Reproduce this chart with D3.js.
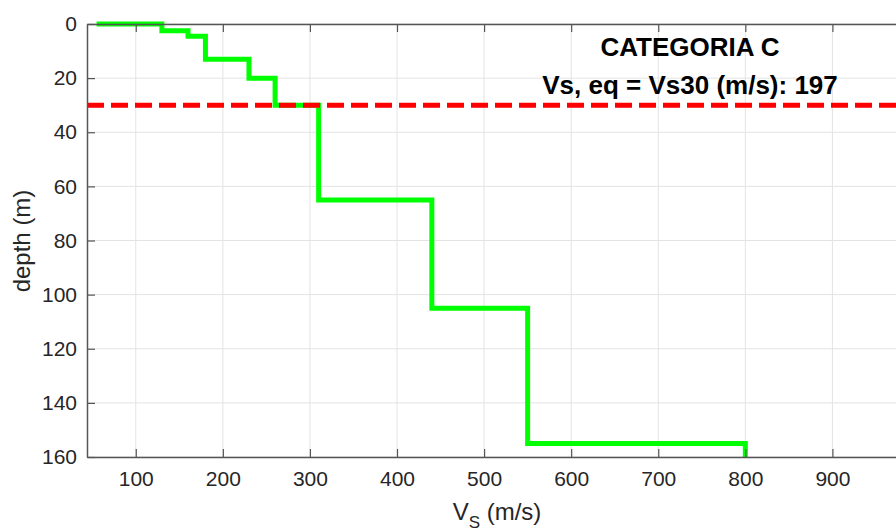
<!DOCTYPE html>
<html>
<head>
<meta charset="utf-8">
<script src="https://cdn.jsdelivr.net/npm/d3@7"></script>
<style>
	html, body { margin: 0; padding: 0; background: #fff; }
	svg { display: block; font-family: 'Liberation Sans', Arial, sans-serif; }
</style>
</head>
<body>
<div id="chart"></div>
<script>
// Vs profile: layer velocities and layer top depths
const startVs = 55;
const layerVs = [130, 160, 180, 230, 260, 310, 440, 550, 800];
const layerTop = [0, 2.5, 4.5, 13, 20, 30, 65, 105, 155];
const maxDepth = 160;

// reference depth for Vs30
const refDepth = 30;

// ticks
const xTicks = [100, 200, 300, 400, 500, 600, 700, 800, 900];
const yTicks = [0, 20, 40, 60, 80, 100, 120, 140, 160];

const category_label = 'CATEGORIA C';
const vs_label = 'Vs, eq = Vs30 (m/s): 197';

// Declare the chart dimensions and margins.
const width = 896;
const height = 531;
const marginTop = 24;
const marginLeft = 87;
const plotBottom = 457;
const plotRight = 919.5;

const x = d3.scaleLinear().domain([44, 1000]).range([marginLeft, plotRight]);
const y = d3.scaleLinear().domain([0, maxDepth]).range([marginTop, plotBottom]);

const svg = d3
	.select('#chart')
	.append('svg')
	.attr('width', width)
	.attr('height', height)
	.attr('viewBox', [0, 0, width, height]);

const axisColor = '#555';
const textColor = '#262626';

// grid
svg
	.append('g')
	.selectAll('line')
	.data(xTicks)
	.enter()
	.append('line')
	.attr('x1', (d) => x(d))
	.attr('x2', (d) => x(d))
	.attr('y1', marginTop)
	.attr('y2', plotBottom)
	.attr('stroke', '#e3e3e3')
	.attr('stroke-width', 1);

svg
	.append('g')
	.selectAll('line')
	.data(yTicks)
	.enter()
	.append('line')
	.attr('x1', marginLeft)
	.attr('x2', plotRight)
	.attr('y1', (d) => y(d))
	.attr('y2', (d) => y(d))
	.attr('stroke', '#e3e3e3')
	.attr('stroke-width', 1);

// build step profile points
let points = [[startVs, 0]];
layerVs.forEach((v, i) => {
	points.push([v, layerTop[i]]);
	let bottom = i < layerVs.length - 1 ? layerTop[i + 1] : maxDepth;
	points.push([v, bottom]);
});

const line = d3
	.line()
	.x((d) => x(d[0]))
	.y((d) => y(d[1]));

svg
	.append('path')
	.datum(points)
	.attr('d', line)
	.attr('fill', 'none')
	.attr('stroke', '#00ff00')
	.attr('stroke-width', 5)
	.attr('stroke-linejoin', 'miter');

// Vs30 reference depth
svg
	.append('line')
	.attr('x1', x(44))
	.attr('x2', plotRight)
	.attr('y1', y(refDepth))
	.attr('y2', y(refDepth))
	.attr('stroke', '#ff0000')
	.attr('stroke-width', 5)
	.attr('stroke-dasharray', '17 7');

// axes (box)
svg
	.append('g')
	.attr('transform', 'translate(0,' + plotBottom + ')')
	.call(d3.axisBottom(x).tickValues(xTicks).tickSize(-8).tickSizeOuter(0).tickPadding(14))
	.call((g) => g.select('.domain').attr('stroke', axisColor).attr('stroke-width', 1.5))
	.call((g) => g.selectAll('.tick line').attr('stroke', axisColor).attr('stroke-width', 1.2))
	.call((g) =>
		g
			.selectAll('.tick text')
			.attr('fill', textColor)
			.style('font-size', '21px')
			.style('font-family', "'Liberation Sans', Arial, sans-serif")
	);

svg
	.append('g')
	.attr('transform', 'translate(0,' + marginTop + ')')
	.call(d3.axisTop(x).tickValues(xTicks).tickSize(-8).tickSizeOuter(0).tickFormat(''))
	.call((g) => g.select('.domain').attr('stroke', axisColor).attr('stroke-width', 1.5))
	.call((g) => g.selectAll('.tick line').attr('stroke', axisColor).attr('stroke-width', 1.2));

svg
	.append('g')
	.attr('transform', 'translate(' + marginLeft + ',0)')
	.call(d3.axisLeft(y).tickValues(yTicks).tickSize(-8).tickSizeOuter(0).tickPadding(10))
	.call((g) => g.select('.domain').attr('stroke', axisColor).attr('stroke-width', 1.5))
	.call((g) => g.selectAll('.tick line').attr('stroke', axisColor).attr('stroke-width', 1.2))
	.call((g) =>
		g
			.selectAll('.tick text')
			.attr('fill', textColor)
			.style('font-size', '21px')
			.style('font-family', "'Liberation Sans', Arial, sans-serif")
	);

// axis labels
svg
	.append('text')
	.attr('transform', 'translate(30,241) rotate(-90)')
	.style('text-anchor', 'middle')
	.style('font-size', '24px')
	.attr('fill', textColor)
	.text('depth (m)');

const xlab = svg
	.append('text')
	.attr('x', 497)
	.attr('y', 520)
	.style('text-anchor', 'middle')
	.style('font-size', '24px')
	.attr('fill', textColor);
xlab.append('tspan').text('V');
xlab.append('tspan').attr('dy', 8).style('font-size', '17px').text('S');
xlab.append('tspan').attr('dy', -8).text(' (m/s)');

// annotation
svg
	.append('text')
	.attr('x', 690)
	.attr('y', 56)
	.style('text-anchor', 'middle')
	.style('font-weight', 'bold')
	.style('font-size', '26px')
	.attr('fill', '#000')
	.text(category_label);

svg
	.append('text')
	.attr('x', 690)
	.attr('y', 94)
	.style('text-anchor', 'middle')
	.style('font-weight', 'bold')
	.style('font-size', '26px')
	.attr('fill', '#000')
	.text(vs_label);
</script>
</body>
</html>
